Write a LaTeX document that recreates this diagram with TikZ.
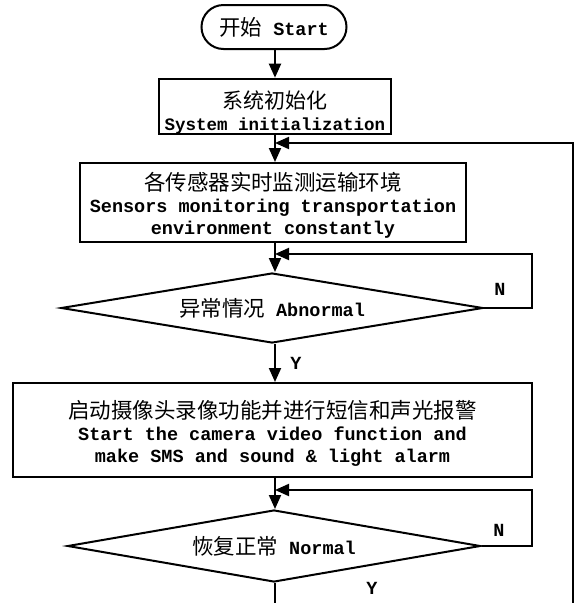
\documentclass[tikz,border=0pt]{standalone}
\usepackage{fontspec}
\setmonofont{Liberation Mono}[UprightFont=* Bold]
\newfontfamily\cjkf{Noto Sans CJK SC}
\usetikzlibrary{arrows.meta,shapes.geometric}
\newcommand{\zhsz}{\fontsize{21.5}{22}\selectfont}
\newcommand{\ensz}{\fontsize{18.5}{22}\selectfont}
\begin{document}
\begin{tikzpicture}[x=1pt,y=-1pt,line width=2pt,
  box/.style={draw,rectangle,inner sep=0pt,align=center,font=\ttfamily\ensz},
  term/.style={draw,rectangle,rounded corners=22pt,inner sep=0pt,minimum width=145pt,minimum height=44pt,font=\ttfamily\ensz},
  dec/.style={draw,diamond,aspect=6,inner sep=0pt,font=\ttfamily\ensz},
  arr/.style={-{Triangle[length=14pt,width=12pt]}},
  lab/.style={font=\ttfamily\ensz,inner sep=0pt}]
\useasboundingbox (0,0) rectangle (577,603);
\coordinate (spine) at (275,0);
\node[term] (start) at (274,27) {{\cjkf\zhsz 开始} Start};
\node[box,minimum width=232pt,minimum height=51pt] (init) at (275,106.5)
  {\rule{0pt}{30pt}{\cjkf\fontsize{21}{21}\selectfont 系统初始化}\\{\fontsize{17.5}{20}\selectfont System initialization}};
\node[box,minimum width=386pt,minimum height=79pt] (sens) at (273,202.5)
  {\rule{0pt}{23pt}{\cjkf\zhsz 各传感器实时监测运输环境}\\Sensors monitoring transportation\\environment constantly};
\node[dec,minimum width=422pt,minimum height=70pt] (dec1) at (272,308) {{\cjkf\zhsz 异常情况} Abnormal};
\node[box,minimum width=519pt,minimum height=94pt] (alarm) at (272.5,430)
  {\rule{0pt}{24pt}{\cjkf\zhsz 启动摄像头录像功能并进行短信和声光报警}\\Start the camera video function and\\make SMS and sound \& light alarm};
\node[dec,minimum width=413pt,minimum height=72pt] (dec2) at (274,546) {{\cjkf\zhsz 恢复正常} Normal};
\coordinate (rtop) at (573,143);
\coordinate (rbot) at (573,603);
\coordinate (n1) at (532,254);
\coordinate (n2) at (532,490);
\coordinate (bot) at (275,603);
\draw[arr] (start.south -| spine) -- (init.north -| spine);
\draw[arr] (init.south -| spine) -- (sens.north -| spine);
\draw[arr] (rbot) -- (rtop) -- (rtop -| spine);
\draw[arr] (sens.south -| spine) -- (dec1.north -| spine);
\draw[arr] (dec1.east) -| (n1) -- (n1 -| spine);
\draw[arr] (dec1.south -| spine) -- (alarm.north -| spine);
\draw[arr] (alarm.south -| spine) -- (dec2.north -| spine);
\draw[arr] (dec2.east) -| (n2) -- (n2 -| spine);
\draw (dec2.south -| spine) -- (bot);
\node[lab] (ny1) at (500,289) {N};
\node[lab] (yy1) at (296,363) {Y};
\node[lab] (ny2) at (499,530) {N};
\node[lab] (yy2) at (372,588) {Y};
\end{tikzpicture}
\end{document}
